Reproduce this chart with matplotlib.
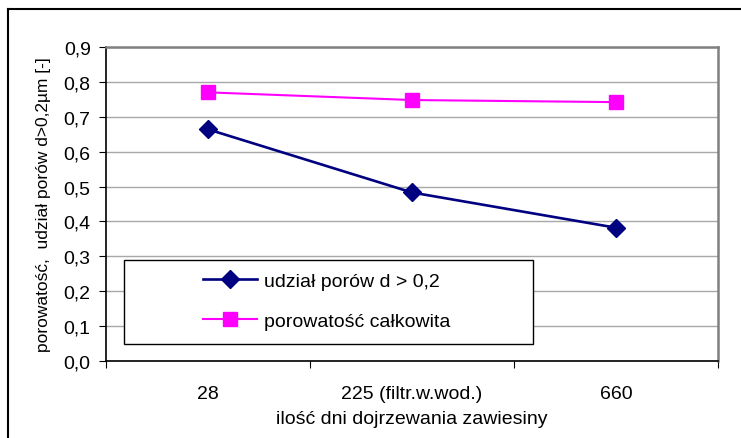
import numpy as np
import matplotlib.pyplot as plt
from matplotlib.lines import Line2D
from matplotlib.patches import Rectangle

plt.rcParams['font.family'] = ['Liberation Sans', 'DejaVu Sans']

# ilość dni dojrzewania i wyniki porozymetrii
categories = ['28', '225 (filtr.w.wod.)', '660']
udzial_porow = [0.664, 0.483, 0.382]
porowatosc = [0.770, 0.748, 0.742]
y_ticks = [0.0, 0.1, 0.2, 0.3, 0.4, 0.5, 0.6, 0.7, 0.8, 0.9]
y_tick_labels = ['0,0', '0,1', '0,2', '0,3', '0,4', '0,5', '0,6', '0,7', '0,8', '0,9']

fig = plt.figure(figsize=(7.41, 4.39), dpi=100)
ax = fig.add_axes([106 / 741, 1 - 362 / 439, 612 / 741, 314 / 439])

x = np.arange(len(categories))
ax.plot(x, udzial_porow, color='#000080', lw=1.9, marker='D', ms=9,
        label='udział porów d > 0,2', zorder=3)
ax.plot(x, porowatosc, color='#FF00FF', lw=1.5, marker='s', ms=10,
        label='porowatość całkowita', zorder=3)

ax.set_xlim(-0.5, len(categories) - 0.5)
ax.set_ylim(0, 0.9)
ax.set_yticks(y_ticks)
ax.set_yticklabels(y_tick_labels, fontsize=14)
ax.yaxis.grid(True, color='#a8a8a8', lw=1)
ax.set_axisbelow(True)

# kategorie opisane pomiędzy kreskami podziałki
ax.set_xticks(np.arange(len(categories) + 1) - 0.5)
ax.set_xticklabels([])
ax.set_xticks(x, minor=True)
ax.set_xticklabels(categories, minor=True, fontsize=14)
ax.tick_params(axis='x', which='minor', length=0, pad=17)
ax.tick_params(axis='x', which='major', length=5, direction='out', color='black')
ax.tick_params(axis='y', length=5, direction='out', pad=6)

for side in ['left', 'bottom']:
    ax.spines[side].set_color('black')
    ax.spines[side].set_linewidth(1.2)
for side in ['top', 'right']:
    ax.spines[side].set_color('#808080')
    ax.spines[side].set_linewidth(1.8)

ax.set_xlabel('ilość dni dojrzewania zawiesiny', fontsize=14, labelpad=6)
ax.set_ylabel('porowatość,  udział porów d>0,2µm [-]', fontsize=12.5, labelpad=9)

ax.add_patch(Rectangle((18 / 612, 17 / 314), 409 / 612, 84 / 314, transform=ax.transAxes,
                       facecolor='white', edgecolor='black', lw=1, zorder=4))
ax.legend(loc='center left', bbox_to_anchor=(97 / 612, 60 / 314), frameon=False,
          fontsize=14, borderpad=0, handlelength=2.8, handletextpad=0.35,
          labelspacing=1.15, borderaxespad=0)

# ramka obszaru wykresu
fig.add_artist(Line2D([8 / 741, 1], [1 - 10 / 439, 1 - 10 / 439], color='black', lw=1.5))
fig.add_artist(Line2D([8 / 741, 8 / 741], [0, 1 - 10 / 439], color='black', lw=1.5))

fig.savefig('out.png', dpi=100)
